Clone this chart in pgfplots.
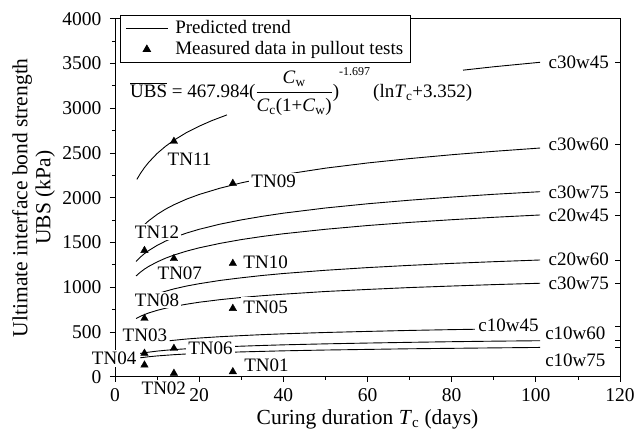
\documentclass[border=0pt]{standalone}
\usepackage{fontspec}
\setmainfont{Liberation Serif}
\usepackage{pgfplots}
\pgfplotsset{compat=1.18}
\usepackage{pgfplotstable}
\tikzset{tn/.style={fill=white, inner sep=2bp}, cl/.style={anchor=west, inner sep=0bp}}
\pgfplotsset{
  lineleg/.style={legend image code/.code={\draw[##1] (0bp,0bp) -- (42bp,0bp);}},
  markleg/.style={legend image code/.code={\draw[##1] plot coordinates {(21bp,0bp)};}},
}

% T, c30w60, c30w75(upper), c20w45, c20w60, c30w75(lower), c10w60, c10w75
\pgfplotstableread{
T    a    b    c    d    e    g   h
5    1591 1287 1125 812  650  251 203
6    1650 1335 1167 842  674  260 211
7    1699 1375 1202 867  694  268 217
8    1742 1409 1232 889  712  274 223
10   1813 1467 1282 926  741  286 232
12   1872 1515 1324 955  765  295 239
14   1921 1555 1359 981  785  303 246
17   1984 1605 1403 1013 810  312 254
20   2036 1647 1440 1039 832  321 260
25   2107 1705 1490 1076 861  332 269
30   2166 1752 1532 1105 885  341 277
35   2215 1792 1567 1131 905  349 283
40   2258 1827 1597 1153 922  356 289
50   2330 1885 1647 1189 952  367 298
60   2388 1932 1689 1219 975  376 305
70   2437 1972 1724 1244 996  384 312
80   2480 2007 1754 1266 1013 391 317
90   2518 2038 1781 1285 1029 397 322
101  2555 2067 1807 1304 1044 402 327
}\curves

\pgfplotstableread{
T    y
7    262
7    130
7    652
7    1410
14   38
14   317
14   1320
14   2630
28   56
28   763
28   1266
28   2160
}\measured

\begin{document}
\fontsize{19bp}{22bp}\selectfont
\begin{tikzpicture}
\begin{axis}[
  scale only axis, width=505bp, height=358bp,
  at={(0,0)}, anchor=south west,
  xmin=0, xmax=120, ymin=0, ymax=4000,
  xtick={0,20,...,120}, ytick={0,500,...,4000},
  minor x tick num=1, minor y tick num=1,
  tick pos=left, tick align=outside,
  major tick length=5bp, minor tick length=3bp,
  every tick/.style={black, line width=0.7bp},
  axis line style={line width=0.8bp},
  scaled ticks=false,
  /pgf/number format/1000 sep={},
  /pgf/number format/assume math mode=true,
  tick label style={font=\fontsize{19.5bp}{22bp}\selectfont},
  yticklabel style={xshift=-2bp},
  xlabel={Curing duration \textit{T}\textsubscript{c} (days)},
  ylabel={Ultimate interface bond strength\\UBS (kPa)},
  label style={font=\fontsize{21.5bp}{23bp}\selectfont},
  ylabel style={align=center, at={(axis description cs:-0.161,0.5)}, anchor=center},
  xlabel style={at={(axis description cs:0.5,-0.118)}, anchor=center},
  clip=false,
  legend cell align=left,
  legend style={at={(0.0099,1.0103)}, anchor=north west, draw=black, line width=0.8bp,
    fill=white, inner xsep=5bp, inner ysep=3bp, row sep=1bp,
    /tikz/every odd column/.append style={column sep=5bp},
    font=\fontsize{19bp}{22bp}\selectfont},
]
\addlegendimage{black, line width=0.9bp, lineleg}
\addlegendentry{Predicted trend}
\addlegendimage{black, only marks, mark=triangle*, mark size=4.3bp, markleg}
\addlegendentry{Measured data in pullout tests}

% c30w45 (two visible segments)
\addplot[black, line width=0.9bp, forget plot] coordinates {
 (5.2,2205) (6,2268) (7,2336) (8,2395) (10,2494) (12,2574) (14,2642) (17,2728) (20,2799) (23,2861) (26.6,2925)};
\addplot[black, line width=0.9bp, forget plot] coordinates {(82.7,3425) (90,3463) (101,3513)};
% other predicted curves
\addplot[black, line width=0.9bp, forget plot] table[x=T, y=a] {\curves};
\addplot[black, line width=0.9bp, forget plot] table[x=T, y=b] {\curves};
\addplot[black, line width=0.9bp, forget plot] table[x=T, y=c] {\curves};
\addplot[black, line width=0.9bp, forget plot] table[x=T, y=d] {\curves};
\addplot[black, line width=0.9bp, forget plot] table[x=T, y=e] {\curves};
\addplot[black, line width=0.9bp, forget plot, skip coords between index={0}{1}] table[x=T, y=g] {\curves};
\addplot[black, line width=0.9bp, forget plot, skip coords between index={0}{1}] table[x=T, y=h] {\curves};
% c10w45
\addplot[black, line width=0.9bp, forget plot] coordinates {
 (13,402) (14,407) (17,421) (20,432) (25,447) (30,459) (35,470) (40,479) (50,494) (60,506) (70,517) (80,526) (85.5,530)};

% equation
\node[anchor=base west, inner sep=0pt] at (axis cs:3.56,3123)
 {$\overline{\mbox{UBS}}$ = 467.984($\displaystyle\frac{\mbox{\textit{C}\textsubscript{w}}}{\mbox{\textit{C}\textsubscript{c}(1+\textit{C}\textsubscript{w})}}$)\raisebox{22bp}{\fontsize{12bp}{12bp}\selectfont -1.697}\hspace{3bp}(ln\textit{T}\textsubscript{c}+3.352)};

% TN labels
\node[tn] at (axis cs:17.7,2427) {TN11};
\node[tn] at (axis cs:37.7,2185) {TN09};
\node[tn] at (axis cs:10.0,1619) {TN12};
\node[tn] at (axis cs:15.4,1158) {TN07};
\node[tn] at (axis cs:35.8,1273) {TN10};
\node[tn] at (axis cs:10.0,856) {TN08};
\node[tn, inner ysep=3.5bp] at (axis cs:35.8,775) {TN05};
\node[tn] at (axis cs:7.1,466) {TN03};
\node[tn] at (axis cs:-0.2,205) {TN04};
\node[tn] at (axis cs:22.7,317) {TN06};
\node[tn] at (axis cs:11.6,-130) {TN02};
\node[tn] at (axis cs:36.0,130) {TN01};

% curve labels
\node[cl] at (axis cs:103,3517) {c30w45};
\node[cl] at (axis cs:103,2598) {c30w60};
\node[cl] at (axis cs:103,2065) {c30w75};
\node[cl] at (axis cs:103,1805) {c20w45};
\node[cl] at (axis cs:103,1310) {c20w60};
\node[cl] at (axis cs:103,1043) {c30w75};
\node[cl] at (axis cs:86.3,577) {c10w45};
\node[cl] at (axis cs:102.2,484) {c10w60};
\node[cl] at (axis cs:102.2,186) {c10w75};

% measured data
\addplot[black, only marks, mark=triangle*, mark size=4.3bp, forget plot] table[x=T, y=y] {\measured};
\end{axis}

\begin{axis}[
  scale only axis, width=505bp, height=358bp,
  at={(0,0)}, anchor=south west,
  xmin=0, xmax=120, ymin=0, ymax=4000,
  hide x axis, axis y line*=right,
  ytick={3517,2598,2065,1805,1303,1043,558,410,328}, yticklabels={},
  tick align=inside, major tick length=5bp,
  every tick/.style={black, line width=0.7bp},
  axis line style={line width=0.8bp},
]
\end{axis}
\pgfresetboundingbox
\useasboundingbox (-115bp,-58.3bp) rectangle (521bp,376.7bp);
\end{tikzpicture}
\end{document}
